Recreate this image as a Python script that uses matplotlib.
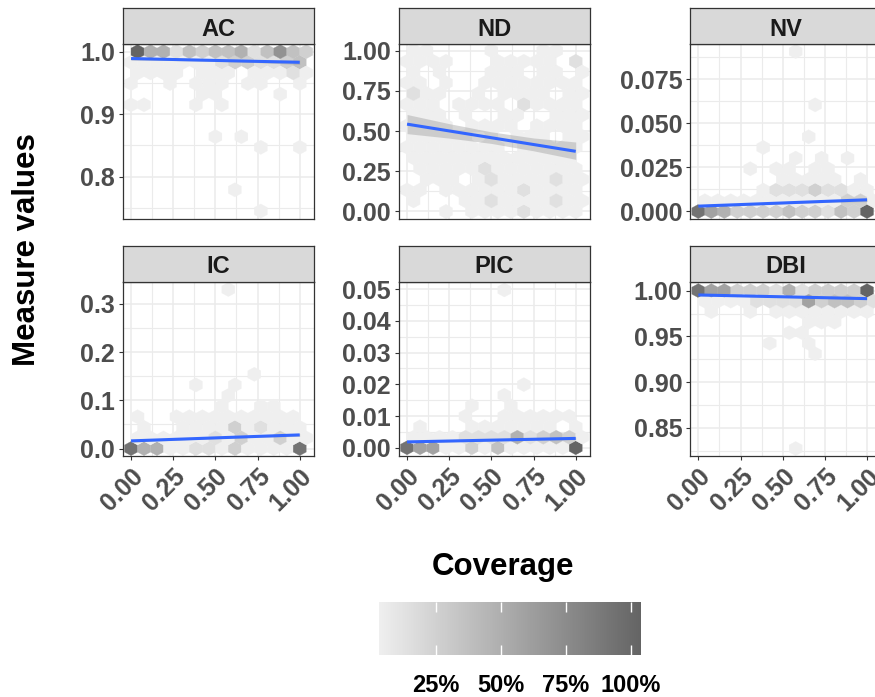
import numpy as np
import matplotlib
matplotlib.use("Agg")
import matplotlib.pyplot as plt
from matplotlib.colors import LinearSegmentedColormap, Normalize
from matplotlib.cm import ScalarMappable

plt.rcParams["font.family"] = ["Liberation Sans", "DejaVu Sans"]
plt.rcParams["font.weight"] = "bold"

# ---- data -------------------------------------------------------------
facets = ["AC", "ND", "NV", "IC", "PIC", "DBI"]

# hex cells, one string per hex row (top row first), one char per column
# "." = empty cell, digit = fill level (0 lightest .. 9 darkest)
ac_hex = [
    "94413233413632",
    "00000001221123",
    "0000.000.00010",
    "0..0.000.00..0",
    ".....00....0..",
    "00...0.0......",
    "..............",
    "..............",
    "......0.0.....",
    "..........0..0",
    "..............",
    "..............",
    "..............",
    "........0.....",
    "..............",
    "..........0...",
]
nd_hex = [
    "00....0...00..",
    "0000...00000.1",
    "0.0...000.00.0",
    "00.0..00000000",
    "100..0.0000.00",
    "000.0000.10000",
    "000.0..00..000",
    "0000.0000.0000",
    "00000.0.000.00",
    "00000000.00000",
    "0000000000000.",
    ".0000010000000",
    ".000.010000100",
    "00.00000010000",
    "0...0010000100",
    "...0.000010000",
]
nv_hex = [
    ".......0......",
    "..............",
    "..............",
    "..............",
    "..............",
    ".........0....",
    "..............",
    "..............",
    "........0.....",
    ".....0........",
    ".......0.0.0..",
    "....0.00.00...",
    "......00000.0.",
    ".....011121100",
    "00000000000220",
    "85422223221329",
]
ic_hex = [
    ".......0......",
    "..............",
    "..............",
    "..............",
    "..............",
    "..............",
    "..............",
    "..............",
    ".........0....",
    ".....0..0.....",
    ".......0......",
    ".......0..00..",
    "0..0000000000.",
    ".0..0000201000",
    "00000010200200",
    "84400110200008",
]
pic_hex = [
    ".......0......",
    "..............",
    "..............",
    "..............",
    "..............",
    "..............",
    "..............",
    "..............",
    "..............",
    ".........0....",
    ".......0......",
    ".....0..0.....",
    "....0..000000.",
    ".0...0000000.0",
    "00001111412320",
    "85500203000009",
]
dbi_hex = [
    "85522214122229",
    "00001111523321",
    ".0..0.00000000",
    "........000...",
    ".......00.....",
    ".....0..0.....",
    ".........0....",
    "..............",
    "..............",
    "..............",
    "..............",
    "..............",
    "..............",
    "..............",
    "..............",
    ".......0......",
]
hex_rows = [ac_hex, nd_hex, nv_hex, ic_hex, pic_hex, dbi_hex]

top_row_y = [1.0, 1.0, 0.0906, 0.33, 0.0497, 1.0]
row_step = [0.017, 0.0667, 0.00604, 0.022, 0.00331, 0.0115]
top_row_shifted = [True, True, True, True, True, False]
X_BINS = 13
LEVEL_MIN, LEVEL_STEP = 0.03, 1.01 / 9

# linear fit (blue line) and its confidence band
fit_at_0 = [0.989, 0.543, 0.0030, 0.0159, 0.0019, 0.9953]
fit_at_1 = [0.983, 0.374, 0.0066, 0.0283, 0.0030, 0.9913]
band_x = [0, 0.25, 0.5, 0.75, 1.0]
band_lo = [
    [0.9865, 0.9858, 0.9846, 0.9825, 0.9795],
    [0.484, 0.456, 0.423, 0.377, 0.324],
    [0.0021, 0.0033, 0.0043, 0.0051, 0.0056],
    [0.0131, 0.0172, 0.0206, 0.0234, 0.0253],
    [0.0015, 0.00193, 0.00225, 0.00248, 0.0026],
    [0.9944, 0.9937, 0.9928, 0.9917, 0.9903],
]
band_hi = [
    [0.9915, 0.9892, 0.9874, 0.9865, 0.9865],
    [0.603, 0.546, 0.495, 0.457, 0.432],
    [0.0039, 0.0045, 0.0053, 0.0063, 0.0076],
    [0.0187, 0.0208, 0.0236, 0.0270, 0.0313],
    [0.0023, 0.00243, 0.00265, 0.00298, 0.0034],
    [0.9962, 0.9949, 0.9938, 0.9929, 0.9923],
]

y_limits = [(0.7326, 1.0118), (-0.0457, 1.0395), (-0.00417, 0.0947),
            (-0.0159, 0.3462), (-0.0026, 0.0523), (0.8191, 1.0098)]
y_ticks = [[0.8, 0.9, 1.0], [0, 0.25, 0.5, 0.75, 1.0], [0, 0.025, 0.05, 0.075],
           [0, 0.1, 0.2, 0.3], [0, 0.01, 0.02, 0.03, 0.04, 0.05],
           [0.85, 0.9, 0.95, 1.0]]
y_fmt = ["{:.1f}", "{:.2f}", "{:.3f}", "{:.1f}", "{:.2f}", "{:.2f}"]
x_ticks = [0, 0.25, 0.5, 0.75, 1.0]
x_labels = ["0.00", "0.25", "0.50", "0.75", "1.00"]
legend_ticks = [0.25, 0.5, 0.75, 1.0]
legend_labels = ["25%", "50%", "75%", "100%"]

# ---- layout (pixels) --------------------------------------------------
W, H = 875, 697
col_left = [122.7, 398.7, 690.0]
row_top = [44.3, 281.7]
panel_w, panel_h, strip_h = 191.7, 174.5, 36.0


def frac(x0, y0, x1, y1):
    return [x0 / W, 1 - y1 / H, (x1 - x0) / W, (y1 - y0) / H]


def hex_cells(rows, top, step, top_shift):
    xs, ys, vals = [], [], []
    for i, row in enumerate(rows):
        shift = 0.5 if (i % 2 == 0) == top_shift else 0.0
        for k, ch in enumerate(row):
            if ch != ".":
                xs.append((k + shift) / X_BINS)
                ys.append(top - i * step)
                vals.append(LEVEL_MIN + int(ch) * LEVEL_STEP)
    return xs, ys, vals


cmap = LinearSegmentedColormap.from_list("cov", ["#EFEFEF", "#646464"])
border = "#333333"

fig = plt.figure(figsize=(W / 100, H / 100), dpi=100)

for n, name in enumerate(facets):
    r, c = divmod(n, 3)
    x0, y0 = col_left[c], row_top[r]
    ax = fig.add_axes(frac(x0, y0, x0 + panel_w, y0 + panel_h))

    top, step, shifted = top_row_y[n], row_step[n], top_row_shifted[n]
    rows = hex_rows[n]
    xs, ys, vals = hex_cells(rows, top, step, shifted)
    bottom = top - (len(rows) - 1) * step
    bottom_shifted = ((len(rows) - 1) % 2 == 0) == shifted
    ymin = bottom - step if bottom_shifted else bottom
    ax.hexbin(xs, ys, C=vals, gridsize=(14, 9),
              extent=(0, 14 / X_BINS, ymin, ymin + 18 * step),
              reduce_C_function=np.max, cmap=cmap,
              norm=Normalize(vmin=0.03, vmax=1.04),
              edgecolors="face", linewidths=0.2, zorder=2)

    ax.fill_between(band_x, band_lo[n], band_hi[n], color="#999999",
                    alpha=0.4, linewidth=0, zorder=3)
    ax.plot([0, 1], [fit_at_0[n], fit_at_1[n]], color="#3366FF", lw=2.2,
            solid_capstyle="butt", zorder=4)

    ax.set_xlim(-0.0495, 1.087)
    ax.set_ylim(*y_limits[n])
    yt = y_ticks[n]
    d = yt[1] - yt[0]
    minor_y = [v + d / 2 for v in [yt[0] - d] + yt]
    minor_y = [v for v in minor_y if y_limits[n][0] < v < y_limits[n][1]]
    ax.set_yticks(yt)
    ax.set_yticklabels([y_fmt[n].format(v) for v in yt])
    ax.set_yticks(minor_y, minor=True)
    ax.set_xticks(x_ticks)
    ax.set_xticks([0.125, 0.375, 0.625, 0.875], minor=True)

    ax.set_axisbelow(True)
    ax.grid(which="major", color="#EBEBEB", lw=1.1, zorder=0)
    ax.grid(which="minor", color="#EBEBEB", lw=0.8, zorder=0)
    ax.tick_params(which="major", length=3, width=0.8, color=border,
                   labelsize=18, labelcolor="#4D4D4D", pad=2.5)
    ax.tick_params(which="minor", length=0)
    for sp in ax.spines.values():
        sp.set_color(border)
        sp.set_linewidth(0.9)

    if r == 0:
        ax.tick_params(axis="x", length=0, labelbottom=False)
    else:
        ax.set_xticklabels(x_labels)
        plt.setp(ax.get_xticklabels(), rotation=45, ha="right", va="top",
                 rotation_mode="anchor")

    sax = fig.add_axes(frac(x0, y0 - strip_h, x0 + panel_w, y0))
    sax.set_facecolor("#D9D9D9")
    sax.set_xticks([])
    sax.set_yticks([])
    for sp in sax.spines.values():
        sp.set_color(border)
        sp.set_linewidth(0.9)
    sax.text(0.5, 0.23, name, ha="center", va="baseline", fontsize=17,
             fontweight="bold", color="#1A1A1A", transform=sax.transAxes)

fig.text(27 / W, 1 - 250 / H, "Measure values", rotation=90, ha="center",
         va="center", fontsize=22.5, fontweight="bold", color="black")
fig.text(503 / W, 1 - 567 / H, "Coverage", ha="center", va="center",
         fontsize=22.5, fontweight="bold", color="black")

cax = fig.add_axes(frac(379, 602, 641, 655))
cb = fig.colorbar(ScalarMappable(norm=Normalize(vmin=0.03, vmax=1.04),
                                 cmap=cmap),
                  cax=cax, orientation="horizontal")
cb.outline.set_visible(False)
cb.set_ticks(legend_ticks)
cb.set_ticklabels(legend_labels)
cax.tick_params(direction="in", length=7, width=1, color="white", top=True,
                bottom=True, labelsize=17, labelcolor="black", pad=14)

fig.savefig("out.png", dpi=100)
